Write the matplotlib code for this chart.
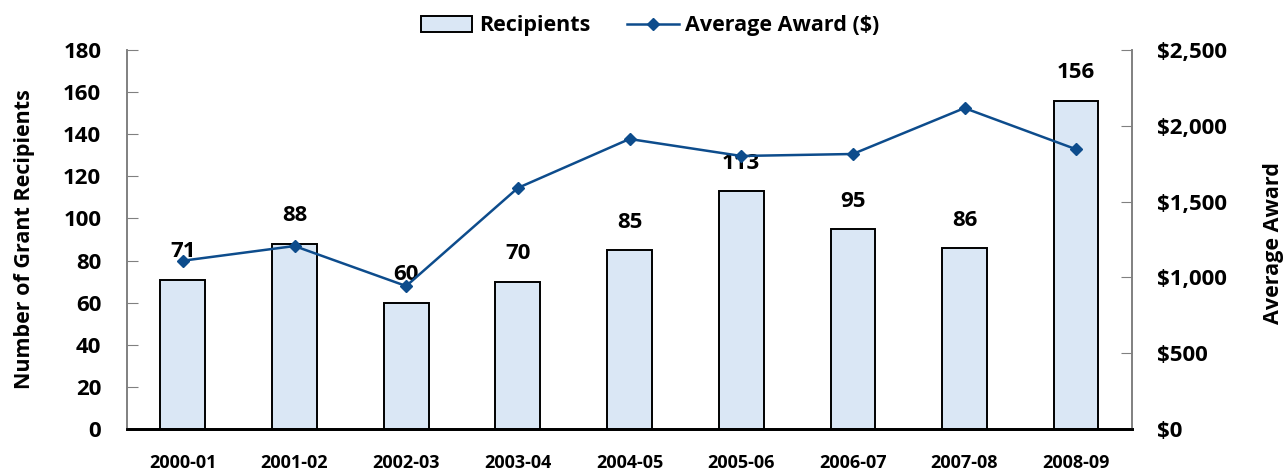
import matplotlib
matplotlib.use("Agg")
from matplotlib import pyplot as plt
from matplotlib.ticker import FuncFormatter

plt.rcParams['font.family'] = ['Open Sans', 'DejaVu Sans']
plt.rcParams['font.weight'] = 'bold'

years = ['2000-01', '2001-02', '2002-03', '2003-04', '2004-05',
         '2005-06', '2006-07', '2007-08', '2008-09']
recipients = [71, 88, 60, 70, 85, 113, 95, 86, 156]
avg_award = [1110, 1207, 943, 1590, 1913, 1801, 1814, 2117, 1845]

bar_color = '#DAE7F5'
line_color = '#0D4C8C'

fig = plt.figure(figsize=(12.86, 4.74), dpi=100)
ax = fig.add_axes([127/1286, 1 - 429/474, 1005/1286, 379/474])
ax2 = ax.twinx()

x = range(len(years))
bars = ax.bar(x, recipients, width=0.4, color=bar_color, edgecolor='black',
              linewidth=1.4, label='Recipients', zorder=2)
for xi, v in zip(x, recipients):
    ax.annotate(str(v), (xi, v), xytext=(0, 20), textcoords='offset points',
                ha='center', va='center', fontsize=16, fontweight='bold')

ax2.plot(x, avg_award, color=line_color, linewidth=1.8, marker='D',
         markersize=6.5, label='Average Award ($)')

ax.set_xlim(-0.5, 8.5)
ax.set_ylim(0, 180)
ax.set_yticks(range(0, 181, 20))
ax2.set_ylim(0, 2500)
ax2.set_yticks(range(0, 2501, 500))
ax2.yaxis.set_major_formatter(FuncFormatter(lambda v, p: '${:,.0f}'.format(v)))

ax.set_xticks(list(x))
ax.set_xticklabels(years, fontsize=13, fontweight='bold')
ax.tick_params(axis='x', length=0, pad=18)
ax.tick_params(axis='y', direction='in', length=8, color='#808080',
               labelsize=16, pad=18.5)
ax2.tick_params(axis='y', direction='in', length=8, color='#808080',
                labelsize=16, pad=18)

for a in (ax, ax2):
    a.spines['top'].set_visible(False)
    a.spines['left'].set_color('#808080')
    a.spines['right'].set_color('#808080')
    a.spines['left'].set_linewidth(1.2)
    a.spines['right'].set_linewidth(1.2)
    a.spines['bottom'].set_color('black')
    a.spines['bottom'].set_linewidth(2)

ax.set_ylabel('Number of Grant Recipients', fontsize=15.5, fontweight='bold',
              va='center')
ax.yaxis.set_label_coords(-0.1015, 0.5)
ax2.set_ylabel('Average Award', fontsize=15.5, fontweight='bold', va='center')
ax2.yaxis.set_label_coords(1.141, 0.49)

handles = [bars, ax2.lines[0]]
fig.legend(handles, ['Recipients', 'Average Award ($)'], loc='center',
           bbox_to_anchor=(650/1286, 1 - 26/474), ncol=2, frameon=False,
           fontsize=15.5, handlelength=2.4, columnspacing=1.7,
           handletextpad=0.3)

plt.savefig('out.png', dpi=100)
